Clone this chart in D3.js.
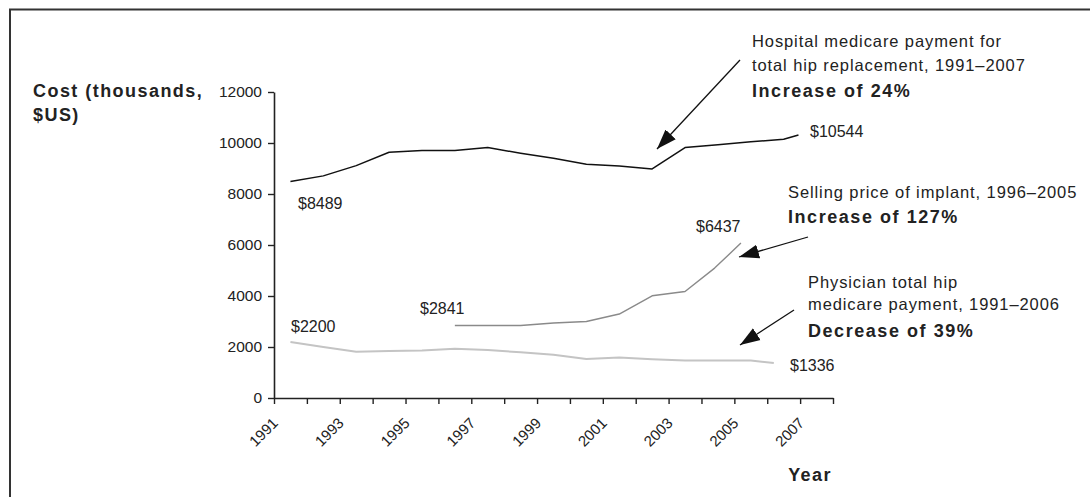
<!DOCTYPE html>
<html>
<head>
<meta charset="utf-8">
<script src="https://cdn.jsdelivr.net/npm/d3@7"></script>
<style>
  body { margin: 0; background: #fff; }
  svg text { font-family: "Liberation Sans", Arial, sans-serif; fill: #222; }
</style>
</head>
<body>
<div id="chart"></div>
<script>
// Chart size
const width = 1090;
const height = 497;

// Data (x = position in years, ticks sit on year boundaries)
const hospitalYears = [1991.5, 1992.5, 1993.5, 1994.5, 1995.5, 1996.5, 1997.5, 1998.5, 1999.5,
  2000.5, 2001.5, 2002.5, 2003.5, 2004.5, 2005.5, 2006.5, 2006.95];
const hospitalCost = [8489, 8711, 9114, 9639, 9702, 9702, 9820, 9600, 9404,
  9169, 9100, 8985, 9820, 9933, 10047, 10149, 10317];

const implantYears = [1996.5, 1997.5, 1998.5, 1999.5, 2000.5, 2001.5, 2002.5, 2003.5, 2004.4, 2005.2];
const implantCost = [2841, 2841, 2841, 2939, 3002, 3292, 4009, 4177, 5094, 6074];

const physicianYears = [1991.5, 1992.5, 1993.5, 1994.5, 1995.5, 1996.5, 1997.5, 1998.5, 1999.5,
  2000.5, 2001.5, 2002.5, 2003.5, 2004.5, 2005.5, 2006.2];
const physicianCost = [2200, 2000, 1814, 1840, 1865, 1932, 1881, 1795, 1697,
  1528, 1591, 1520, 1473, 1473, 1473, 1371];

const yTicks = [0, 2000, 4000, 6000, 8000, 10000, 12000];
const xTicks = d3.range(1991, 2009);
const xLabelYears = d3.range(1991, 2008, 2);

const svg = d3.select("#chart")
  .append("svg")
  .attr("width", width)
  .attr("height", height);

// Frame: top and left edges only
svg.append("path")
  .attr("d", "M10,497 V9.5 H1090")
  .attr("fill", "none")
  .attr("stroke", "#333")
  .attr("stroke-width", 2);

const x = d3.scaleLinear().domain([1991, 2008]).range([274, 833]);
const y = d3.scaleLinear().domain([0, 12000]).range([398, 92]);

// Axes
const yAxis = svg.append("g")
  .attr("transform", `translate(${x(1991)},0)`)
  .call(d3.axisLeft(y).tickValues(yTicks).tickFormat(d3.format("d"))
    .tickSize(6).tickPadding(6).tickSizeOuter(0));

const xAxis = svg.append("g")
  .attr("transform", `translate(0,${y(0)})`)
  .call(d3.axisBottom(x).tickValues(xTicks).tickSize(6).tickFormat("").tickSizeOuter(0));

[yAxis, xAxis].forEach(g => {
  g.select(".domain").attr("stroke", "#222").attr("stroke-width", 1.6);
  g.selectAll(".tick line").attr("stroke", "#222").attr("stroke-width", 1.4);
});
yAxis.selectAll(".tick text")
  .attr("font-size", 15.5)
  .style("font-family", "Liberation Sans, Arial, sans-serif")
  .attr("fill", "#222");

// Rotated year labels
svg.append("g")
  .selectAll("text")
  .data(xLabelYears)
  .enter()
  .append("text")
  .attr("transform", d => `translate(${x(d) + 5},${y(0) + 26}) rotate(-45)`)
  .attr("text-anchor", "end")
  .attr("font-size", 15)
  .text(d => d);

// Lines
const line = d3.line()
  .x(d => x(d[0]))
  .y(d => y(d[1]));

const series = [
  { years: hospitalYears, cost: hospitalCost, color: "#111", w: 1.5 },
  { years: implantYears, cost: implantCost, color: "#8a8a8a", w: 1.4 },
  { years: physicianYears, cost: physicianCost, color: "#c4c4c4", w: 2 }
];

series.forEach(s => {
  svg.append("path")
    .datum(s.years.map((yr, i) => [yr, s.cost[i]]))
    .attr("d", line)
    .attr("fill", "none")
    .attr("stroke", s.color)
    .attr("stroke-width", s.w)
    .attr("stroke-linejoin", "round");
});

// Value labels
const valueLabels = [
  { t: "$8489", x: 298, y: 209 },
  { t: "$10544", x: 810, y: 137 },
  { t: "$2841", x: 420, y: 314 },
  { t: "$6437", x: 696, y: 232 },
  { t: "$2200", x: 291, y: 332 },
  { t: "$1336", x: 790, y: 371 }
];
svg.append("g")
  .selectAll("text")
  .data(valueLabels)
  .enter()
  .append("text")
  .attr("x", d => d.x)
  .attr("y", d => d.y)
  .attr("font-size", 16)
  .text(d => d.t);

// Axis titles
const bold = { "font-weight": "bold", "font-size": 18, "letter-spacing": 1.45 };
function addText(t, px, py, opts) {
  const el = svg.append("text").attr("x", px).attr("y", py).text(t);
  Object.entries(opts || {}).forEach(([k, v]) => el.attr(k, v));
  return el;
}
addText("Cost (thousands,", 33, 97, bold);
addText("$US)", 33, 121, bold);
addText("Year", 832, 481, Object.assign({ "text-anchor": "end" }, bold));

// Annotations
const plain = { "font-size": 16.5, "letter-spacing": 0.9 };
const boldAnn = { "font-weight": "bold", "font-size": 18, "letter-spacing": 1.55 };
addText("Hospital medicare payment for", 752, 47, plain);
addText("total hip replacement, 1991\u20132007", 752, 71, plain);
addText("Increase of 24%", 752, 97, boldAnn);

addText("Selling price of implant, 1996\u20132005", 788, 198, plain);
addText("Increase of 127%", 788, 223, boldAnn);

addText("Physician total hip", 808, 288, plain);
addText("medicare payment, 1991\u20132006", 808, 310, plain);
addText("Decrease of 39%", 808, 337, boldAnn);

// Arrows
svg.append("defs").append("marker")
  .attr("id", "arrow")
  .attr("viewBox", "0 0 10 10")
  .attr("refX", 10)
  .attr("refY", 5)
  .attr("markerWidth", 20)
  .attr("markerHeight", 20)
  .attr("markerUnits", "userSpaceOnUse")
  .attr("orient", "auto")
  .append("path")
  .attr("d", "M0,1.5 L10,5 L0,8.5 Z")
  .attr("fill", "#111");

const arrows = [
  [[740, 60], [657, 149]],
  [[808, 237], [739, 257]],
  [[794, 310], [740, 345]]
];
svg.append("g")
  .selectAll("line")
  .data(arrows)
  .enter()
  .append("line")
  .attr("x1", d => d[0][0])
  .attr("y1", d => d[0][1])
  .attr("x2", d => d[1][0])
  .attr("y2", d => d[1][1])
  .attr("stroke", "#111")
  .attr("stroke-width", 1.3)
  .attr("marker-end", "url(#arrow)");
</script>
</body>
</html>
